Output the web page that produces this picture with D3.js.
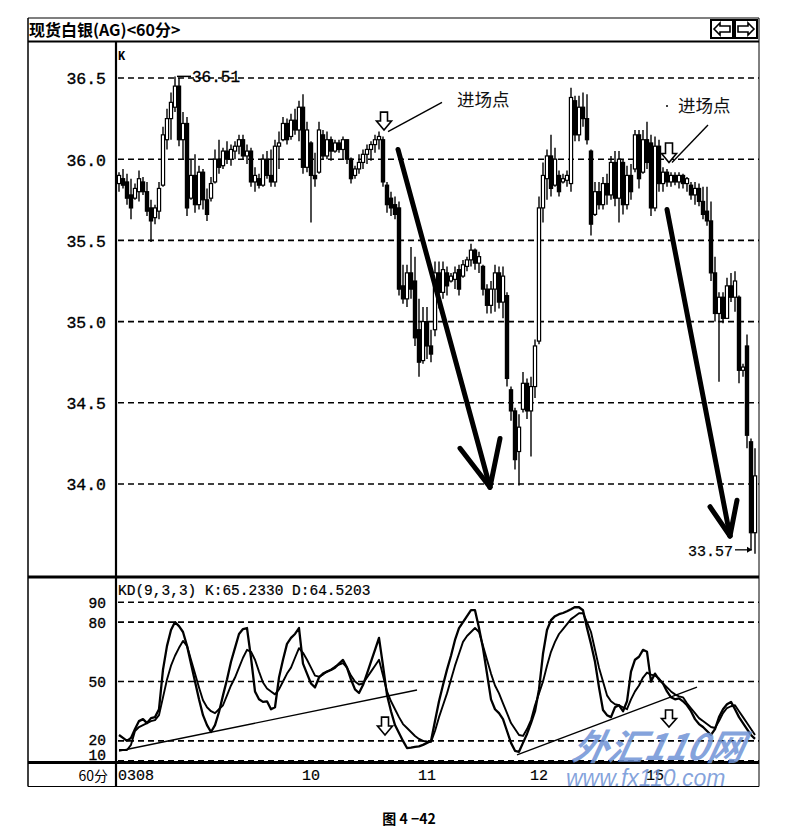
<!DOCTYPE html>
<html><head><meta charset="utf-8">
<script src="https://cdn.jsdelivr.net/npm/d3@7/dist/d3.min.js"></script>
<style>body{margin:0;background:#fff}svg{display:block}</style>
</head><body><svg id="c" width="811" height="840"></svg>
<script>
// ---- data (60-minute bars, silver spot) ----
const highs=[35.92,35.94,35.91,35.88,35.85,35.93,35.89,35.86,35.75,35.72,
35.86,36.20,36.31,36.41,36.51,36.50,36.29,36.26,36.00,36.03,
35.96,35.94,35.82,35.89,36.06,36.12,36.07,36.11,36.09,36.11,
36.15,36.15,36.09,36.07,35.95,35.91,36.03,36.05,36.06,36.12,
36.17,36.26,36.25,36.28,36.31,36.36,36.40,36.23,36.11,36.04,
36.23,36.18,36.17,36.14,36.12,36.12,36.14,36.12,36.01,35.96,
36.03,36.06,36.09,36.11,36.15,36.17,36.14,35.86,35.80,35.77,
35.74,35.35,35.35,35.46,35.40,35.14,35.09,35.09,34.95,35.37,
35.37,35.37,35.34,35.30,35.34,35.35,35.38,35.40,35.48,35.45,
35.43,35.35,35.23,35.25,35.35,35.34,35.34,35.18,34.60,34.47,
34.43,34.69,34.65,34.66,34.89,35.77,35.98,36.06,36.15,36.07,
35.93,35.91,35.93,36.44,36.39,36.39,36.41,36.40,36.06,35.86,
35.86,35.89,35.91,36.02,36.05,36.05,36.00,35.96,35.97,36.18,
36.18,36.18,36.23,36.15,36.14,36.12,35.95,35.94,35.92,35.92,
35.92,35.91,35.89,35.86,35.86,35.85,35.83,35.83,35.74,35.40,
35.18,35.18,35.27,35.30,35.31,35.16,34.74,34.92,34.28,34.22];
const lows=[35.80,35.82,35.72,35.63,35.75,35.74,35.78,35.65,35.49,35.60,
35.63,35.83,36.06,36.12,36.29,36.08,36.00,35.65,35.75,35.67,
35.69,35.69,35.62,35.74,35.85,35.91,35.94,35.97,35.96,36.00,
36.03,36.00,35.97,35.83,35.80,35.82,35.83,35.88,35.83,35.83,
35.94,36.11,36.09,36.12,36.15,36.11,35.91,35.92,35.61,35.83,
35.91,36.00,36.00,35.99,36.04,36.04,36.00,35.97,35.85,35.88,
35.91,35.94,35.97,35.99,36.04,36.06,35.83,35.67,35.65,35.63,
35.16,35.11,35.09,35.14,34.85,34.66,34.74,34.77,34.75,34.91,
35.08,35.14,35.16,35.24,35.20,35.16,35.27,35.31,35.34,35.32,
35.30,35.16,35.05,35.05,35.06,35.08,35.02,34.60,34.39,34.09,
33.99,34.44,34.40,34.17,34.53,34.86,35.61,35.75,35.77,35.83,
35.77,35.85,35.83,35.80,36.11,36.11,36.20,36.09,35.53,35.65,
35.69,35.69,35.72,35.75,35.71,35.61,35.66,35.69,35.75,35.92,
35.82,35.91,35.94,35.65,35.68,35.80,35.80,35.83,35.83,35.84,
35.82,35.82,35.80,35.75,35.72,35.71,35.63,35.59,35.25,35.00,
34.63,34.99,35.08,35.12,35.06,34.62,34.66,34.22,33.60,33.57];
const opens=[35.85,35.88,35.86,35.78,35.76,35.80,35.86,35.80,35.70,35.64,
35.68,35.84,36.12,36.25,36.32,36.45,36.12,36.22,35.76,35.90,
35.72,35.92,35.75,35.76,35.86,36.00,35.96,36.05,36.00,36.05,
36.08,36.12,36.02,36.05,35.86,35.88,35.84,36.00,35.90,35.86,
36.08,36.12,36.22,36.14,36.24,36.18,36.32,35.95,36.10,35.90,
35.92,36.15,36.02,36.12,36.05,36.10,36.06,36.12,36.00,35.90,
35.94,35.98,36.03,36.06,36.09,36.12,36.12,35.84,35.76,35.72,
35.70,35.22,35.14,35.30,35.25,34.95,34.76,35.00,34.85,34.95,
35.30,35.18,35.30,35.25,35.26,35.32,35.28,35.34,35.38,35.44,
35.36,35.34,35.20,35.10,35.20,35.30,35.12,35.16,34.58,34.45,
34.20,34.46,34.62,34.45,34.60,34.88,35.70,35.88,36.02,35.84,
35.90,35.86,35.87,35.85,36.36,36.15,36.32,36.25,36.05,35.66,
35.80,35.72,35.85,35.78,35.98,35.76,35.98,35.72,35.90,35.94,
36.15,35.92,36.12,36.10,35.70,36.08,35.85,35.92,35.86,35.90,
35.86,35.90,35.85,35.84,35.78,35.82,35.74,35.68,35.62,35.30,
35.05,35.15,35.02,35.22,35.15,35.15,34.70,34.85,34.26,33.70];
const closes=[35.90,35.84,35.76,35.70,35.82,35.88,35.80,35.68,35.62,35.70,
35.82,36.15,36.25,36.35,36.45,36.12,36.22,35.70,35.90,35.72,
35.92,35.75,35.66,35.85,36.00,35.95,36.05,36.00,36.06,36.08,
36.12,36.02,36.05,35.86,35.90,35.84,36.00,35.90,35.86,36.08,
36.10,36.22,36.12,36.24,36.18,36.32,35.95,36.18,35.90,35.88,
36.18,36.02,36.12,36.05,36.10,36.06,36.12,36.00,35.88,35.94,
35.98,36.03,36.06,36.09,36.12,36.14,35.86,35.72,35.70,35.66,
35.20,35.14,35.30,35.20,34.90,34.75,35.00,34.85,34.80,35.30,
35.18,35.32,35.22,35.28,35.30,35.20,35.35,35.38,35.44,35.36,
35.40,35.20,35.10,35.20,35.30,35.12,35.28,34.65,34.45,34.15,
34.35,34.62,34.45,34.60,34.85,35.70,35.90,36.02,35.82,36.00,
35.80,35.88,35.90,36.38,36.15,36.32,36.25,36.12,35.60,35.80,
35.72,35.85,35.78,35.98,35.76,36.00,35.72,35.90,35.80,36.15,
35.88,36.12,35.98,35.70,36.08,35.85,35.92,35.86,35.90,35.86,
35.90,35.85,35.88,35.78,35.82,35.74,35.66,35.62,35.30,35.05,
35.15,35.02,35.22,35.15,35.25,34.70,34.72,34.30,33.70,34.05];
const kValues=[23,21.5,20,21.5,26,30,31,29,31.5,32,
36,56,68,76,80,78,75,68,59,50,
41,33,28,24.5,28,34.6,43,51,60,67,
74,76.5,77,62,45,41,39.7,40,36,37,
52,61,69,72,74,77,59,54,49,47,
52,54,55,55.8,57,59,60.9,57,51,46,
44.2,48.2,54,60,66,72,58,43.2,35,28,
24,20,16.4,16.6,17,17.2,18,19,20,30,
40,48.2,56,63,71,77,80,83,86,86,
77,66.8,54,41,36,34,31,25,19,15,
14.5,19,23.5,29,35,46,64,76,81,83,
84,84.6,85.5,86.5,87.6,87.5,86,77,69,60,
47,35.6,33,32,37,38,35,40,55,61,
62.5,66,65,50,54,51,49,45,42,41,
41.5,40,38,35,31,28.5,27,25,23,26,
32,36,38.5,39.7,36,32,29,26,23,21];
const dValues=[15.4,15.4,15.4,18,25,27,28,29,30,30.5,
33,42,51,58,63,67,70.5,68,61,54,
47,40.5,37,35,34,36,38,43,48,52,
57,62,66,65,61,55,49.5,46.5,45,43.5,
46,50,54,57,62,66.8,64.5,61,57,53,
52.5,53.5,55,56,57.5,58.5,59.3,57,53,50,
48.5,49,52,55,58,61,53,45,40,36,
32,28.5,26.5,24.5,22.5,21,20,19.7,19.5,25,
32,38,44,51,58,64,70,73,75,77,
75,68,61,54,48,44,39,34,29,26,
23,22.5,26,30.5,38,44,50,58,65,70,
74,76.5,79,81.5,83,84.5,84.5,80,75,66,
57,50,43,40,38.5,38,37,36,41,45,
48,52,54.5,53.5,53,51.5,49,47,45,43.5,
42.5,42,39,36.5,34,31.5,30,28.5,27,26.5,
30,34,36.6,37.5,38,35,32,29,26,23];
const priceTicks=[34.0,34.5,35.0,35.5,36.0,36.5];
const kdTicks=[10,20,50,80,90];
const dateLabels=["0308","10","11","12","15"];
const dateIndex=[0,48,77,105,134];
// trend lines on KD (bar index, value)
const kdTrend1=[[0,14.9],[74.5,45.7]];
const kdTrend2=[[99.5,12.9],[144.5,47.2]];
// thick down arrows on price (start, tip, wing L, wing R) as [index, price]
const bigArrow1=[[69.75,36.06],[92.75,33.98],[85.25,34.22],[95.25,34.28]];
const bigArrow2=[[137,35.69],[152.75,33.68],[147.75,33.86],[154.5,33.90]];
// hollow signal arrows: [index, top value, bottom value]
const priceSignals=[[66.25,36.29,36.18],[137.5,36.10,35.98]];
const kdSignals=[[66.5,32,23],[137.5,35.6,27]];
// entry-point callouts: line from -> to, text position
const callouts=[{from:[67.25,36.17],to:[80.75,36.35],text:[84.5,36.33]},
                {from:[138.25,35.98],to:[147.25,36.21],text:[139.75,36.29]}];

// ---- layout ----
const svg=d3.select("#c");
const L=28,R=759,AX=116,TOP=18,HB=41.5,PB=577,KB=762.5,BOT=786.5;
const x=d3.scaleLinear().domain([0,159]).range([119,755]);
const yP=d3.scaleLinear().domain([34,36.5]).range([484,78]);
const yK=d3.scaleLinear().domain([10,90]).range([760.7,602.3]);
const mono="'Liberation Mono','DejaVu Sans Mono',monospace";
const cjk="'Noto Sans CJK SC','Noto Sans',sans-serif";

// frame
const g=svg.append("g");
g.append("line").attr("x1",L).attr("x2",R).attr("y1",TOP).attr("y2",TOP).attr("stroke","#000").attr("stroke-width",1.2);
g.append("line").attr("x1",L).attr("x2",R).attr("y1",HB).attr("y2",HB).attr("stroke","#000").attr("stroke-width",2.2);
g.append("line").attr("x1",L).attr("x2",R).attr("y1",PB).attr("y2",PB).attr("stroke","#000").attr("stroke-width",3);
g.append("line").attr("x1",L).attr("x2",R).attr("y1",KB).attr("y2",KB).attr("stroke","#000").attr("stroke-width",3);
g.append("line").attr("x1",L).attr("x2",R).attr("y1",BOT).attr("y2",BOT).attr("stroke","#000").attr("stroke-width",1.2);
g.append("line").attr("x1",L).attr("x2",L).attr("y1",TOP).attr("y2",BOT).attr("stroke","#000").attr("stroke-width",1.5);
g.append("line").attr("x1",R).attr("x2",R).attr("y1",TOP).attr("y2",BOT).attr("stroke","#000").attr("stroke-width",1);
g.append("line").attr("x1",AX).attr("x2",AX).attr("y1",HB).attr("y2",BOT).attr("stroke","#000").attr("stroke-width",2.2);

// header
svg.append("text").attr("x",L+1).attr("y",36).attr("font-family",cjk).attr("font-weight","bold").attr("font-size",16).attr("fill","#000").text("现货白银(AG)<60分>");
// nav buttons
[[711,"L"],[735,"R"]].forEach(([bx,dir])=>{
  svg.append("rect").attr("x",bx).attr("y",20).attr("width",22).attr("height",18).attr("fill","#fff").attr("stroke","#000").attr("stroke-width",2);
  const cx=bx+11,cy=29,s=dir==="L"?-1:1;
  const p=`M${cx+s*8},${cy} L${cx+s*2},${cy-6} L${cx+s*2},${cy-3} L${cx-s*8},${cy-3} L${cx-s*8},${cy+3} L${cx+s*2},${cy+3} L${cx+s*2},${cy+6} Z`;
  svg.append("path").attr("d",p).attr("fill","#fff").attr("stroke","#000").attr("stroke-width",1.6);
});

// gridlines
const grid=svg.append("g").attr("stroke","#000").attr("stroke-width",1.6).attr("stroke-dasharray","6,4");
priceTicks.forEach(t=>grid.append("line").attr("x1",AX+2).attr("x2",R).attr("y1",yP(t)).attr("y2",yP(t)));
kdTicks.forEach(t=>grid.append("line").attr("x1",AX+2).attr("x2",R).attr("y1",yK(t)).attr("y2",yK(t)));

// axis labels
const pa=svg.append("g").attr("transform",`translate(${AX-7},0)`)
  .call(d3.axisLeft(yP).tickValues(priceTicks).tickFormat(d3.format(".1f")).tickSize(0));
pa.select(".domain").remove();
pa.selectAll("text").attr("font-family",mono).attr("font-size",16.5).attr("fill","#000").attr("stroke","#000").attr("stroke-width",0.35).attr("dy","0.36em");
const ka=svg.append("g").attr("transform",`translate(${AX-7},0)`)
  .call(d3.axisLeft(yK).tickValues(kdTicks).tickFormat(d3.format("d")).tickSize(0));
ka.select(".domain").remove();
ka.selectAll("text").attr("font-family",mono).attr("font-size",14.5).attr("fill","#000").attr("stroke","#000").attr("stroke-width",0.35)
  .attr("dy",d=>d===10?"-0.05em":(d===20?"0.25em":"0.36em"));

svg.append("text").attr("x",118).attr("y",60).attr("font-family",mono).attr("font-weight","bold").attr("font-size",12).text("K");
svg.append("text").attr("x",118).attr("y",595).attr("font-family",mono).attr("font-size",14.5).attr("fill","#000").attr("stroke","#000").attr("stroke-width",0.2).text("KD(9,3,3) K:65.2330 D:64.5203");
svg.append("text").attr("x",AX-8).attr("y",781).attr("text-anchor","end").attr("font-family",cjk).attr("font-size",14).text("60分");

// date labels
dateLabels.forEach((d,j)=>{
  svg.append("text").attr("x",j===0?118:x(dateIndex[j])).attr("y",780)
   .attr("text-anchor",j===0?"start":"middle").attr("font-family",mono).attr("font-size",15).attr("fill","#000").attr("stroke","#000").attr("stroke-width",0.2).text(d);
});

// candles
const bars=highs.map((h,i)=>({i,h,l:lows[i],o:opens[i],c:closes[i]}));
const cg=svg.append("g");
cg.selectAll("line.w").data(bars).join("line").attr("x1",d=>x(d.i)).attr("x2",d=>x(d.i))
  .attr("y1",d=>yP(d.h)).attr("y2",d=>yP(d.l)).attr("stroke","#000").attr("stroke-width",1.4);
cg.selectAll("rect").data(bars).join("rect")
  .attr("x",d=>x(d.i)-1.6).attr("width",3.2)
  .attr("y",d=>yP(Math.max(d.o,d.c))).attr("height",d=>Math.max(1,Math.abs(yP(d.o)-yP(d.c))))
  .attr("fill",d=>d.c<d.o?"#000":"#fff").attr("stroke","#000").attr("stroke-width",1.2);

// high / low markers
const hi=d3.maxIndex(highs), lo=d3.minIndex(lows);
svg.append("line").attr("x1",x(hi)+2).attr("x2",x(hi)+16).attr("y1",yP(highs[hi])).attr("y2",yP(highs[hi])).attr("stroke","#000").attr("stroke-width",1.5);
svg.append("text").attr("x",x(hi)+17).attr("y",yP(highs[hi])+6).attr("font-family",mono).attr("font-size",16).attr("fill","#000").attr("stroke","#000").attr("stroke-width",0.3).text(highs[hi].toFixed(2));
svg.append("text").attr("x",x(lo)-22).attr("y",yP(lows[lo])+2).attr("text-anchor","end").attr("font-family",mono).attr("font-size",15).attr("fill","#000").attr("stroke","#000").attr("stroke-width",0.25).text(lows[lo].toFixed(2));
svg.append("line").attr("x1",x(lo)-20).attr("x2",x(lo)-3).attr("y1",yP(lows[lo])-4).attr("y2",yP(lows[lo])-4).attr("stroke","#000").attr("stroke-width",1.3);
svg.append("path").attr("d",`M${x(lo)-3},${yP(lows[lo])-4} l-5,-3 l0,6 z`).attr("fill","#000");

// big arrows
[bigArrow1,bigArrow2].forEach(a=>{
  const P=a.map(([i,p])=>[x(i),yP(p)]);
  const ag=svg.append("g").attr("stroke","#000").attr("stroke-width",5).attr("stroke-linecap","round").attr("fill","none");
  ag.append("line").attr("x1",P[0][0]).attr("y1",P[0][1]).attr("x2",P[1][0]).attr("y2",P[1][1]);
  ag.append("line").attr("x1",P[2][0]).attr("y1",P[2][1]).attr("x2",P[1][0]).attr("y2",P[1][1]);
  ag.append("line").attr("x1",P[3][0]).attr("y1",P[3][1]).attr("x2",P[1][0]).attr("y2",P[1][1]);
});

// hollow signal arrows
function hollow(cx,top,bot){
  const hh=Math.min(9,(bot-top)*0.5);
  return `M${cx-3.5},${top} L${cx+3.5},${top} L${cx+3.5},${bot-hh} L${cx+7.5},${bot-hh} L${cx},${bot} L${cx-7.5},${bot-hh} L${cx-3.5},${bot-hh} Z`;
}
priceSignals.forEach(([i,t,b])=>svg.append("path").attr("d",hollow(x(i),yP(t),yP(b))).attr("fill","#fff").attr("stroke","#000").attr("stroke-width",1.6));
kdSignals.forEach(([i,t,b])=>svg.append("path").attr("d",hollow(x(i),yK(t),yK(b))).attr("fill","#fff").attr("stroke","#000").attr("stroke-width",1.6));

// callouts
callouts.forEach(c=>{
  svg.append("line").attr("x1",x(c.from[0])).attr("y1",yP(c.from[1])).attr("x2",x(c.to[0])).attr("y2",yP(c.to[1])).attr("stroke","#000").attr("stroke-width",1.4);
  svg.append("text").attr("x",x(c.text[0])).attr("y",yP(c.text[1])).attr("font-family",cjk).attr("font-size",17.5).attr("fill","#111").text("进场点");
});
svg.append("circle").attr("cx",x(137)).attr("cy",yP(36.29)-6).attr("r",1).attr("fill","#000");

// KD lines
svg.append("clipPath").attr("id","kdc").append("rect").attr("x",AX+1).attr("y",PB+2).attr("width",R-AX-1).attr("height",KB-PB-4);
const kg=svg.append("g").attr("clip-path","url(#kdc)");
const ln=d3.line().x((d,i)=>x(i)).y(d=>yK(d));
kg.append("path").attr("d",ln(dValues)).attr("fill","none").attr("stroke","#000").attr("stroke-width",1.9).attr("stroke-linejoin","round");
kg.append("path").attr("d",ln(kValues)).attr("fill","none").attr("stroke","#000").attr("stroke-width",2.3).attr("stroke-linejoin","round");
[kdTrend1,kdTrend2].forEach(t=>kg.append("line").attr("x1",x(t[0][0])).attr("y1",yK(t[0][1])).attr("x2",x(t[1][0])).attr("y2",yK(t[1][1])).attr("stroke","#000").attr("stroke-width",1.4));

// watermark
svg.append("text").attr("x",572).attr("y",760).attr("font-family","'Noto Sans CJK SC',sans-serif").attr("font-weight","bold").attr("font-style","italic")
  .attr("font-size",36).attr("fill","#6f93d6").attr("fill-opacity",0.85).attr("transform","skewX(-12) translate(160,0)").text("外汇110网");
svg.append("text").attr("x",566).attr("y",786).attr("font-family","'Liberation Sans',Arial,sans-serif").attr("font-style","italic")
  .attr("font-size",23).attr("fill","#6f93d6").attr("fill-opacity",0.85).text("www.fx110.com");

// caption
svg.append("text").attr("x",409).attr("y",824).attr("text-anchor","middle").attr("font-family",cjk).attr("font-weight","bold").attr("font-size",14).text("图 4 −42");
</script></body></html>
